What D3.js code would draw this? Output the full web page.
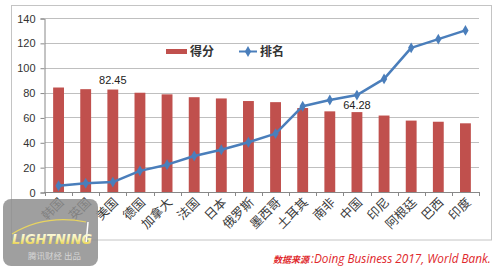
<!DOCTYPE html>
<html>
<head>
<meta charset="utf-8">
<script src="https://cdn.jsdelivr.net/npm/d3@7"></script>
<style>
  html, body { margin: 0; padding: 0; background: #fff; }
  svg { display: block; }
</style>
</head>
<body>
<svg id="chart" width="500" height="271"></svg>
<script>
// Doing Business 2017: ease-of-doing-business score and global rank
const countries = ["韩国", "英国", "美国", "德国", "加拿大", "法国", "日本", "俄罗斯",
                   "墨西哥", "土耳其", "南非", "中国", "印尼", "阿根廷", "巴西", "印度"];
const scores = [84.07, 82.74, 82.45, 79.87, 78.57, 76.27, 75.27, 73.19,
                72.29, 67.57, 64.89, 64.28, 61.52, 57.45, 56.53, 55.27];
const ranks = [5, 7, 8, 17, 22, 29, 34, 40, 47, 69, 74, 78, 91, 116, 123, 130];
const yTicks = [0, 20, 40, 60, 80, 100, 120, 140];
const labelled = ["美国", "中国"];   // bars whose score is printed
const legendNames = ["得分", "排名"];

const barColor = "#C0504D";
const lineColor = "#4A7EBB";
const gridColor = "#bfbfbf";
const cjk = "'Noto Sans CJK SC', 'Noto Sans', sans-serif";
const latin = "'Liberation Sans', Arial, sans-serif";

const svg = d3.select("#chart");

// outer chart frame
svg.append("rect")
  .attr("x", 11.5).attr("y", 5.5).attr("width", 480).attr("height", 234.5)
  .attr("fill", "#fff").attr("stroke", "#c4c4c4");

const x = d3.scaleBand().domain(countries).range([45, 479])
  .paddingInner(0.6).paddingOuter(0.3);
const y = d3.scaleLinear().domain([0, 140]).range([192, 18]);

// horizontal gridlines
svg.append("g").selectAll("line").data(yTicks.filter(d => d > 0)).join("line")
  .attr("x1", 45).attr("x2", 479)
  .attr("y1", d => Math.round(y(d)) + 0.5).attr("y2", d => Math.round(y(d)) + 0.5)
  .attr("stroke", gridColor);

// y axis
const yAxis = svg.append("g").attr("transform", "translate(44.5,0.5)")
  .call(d3.axisLeft(y).tickValues(yTicks).tickSize(4).tickPadding(5));
yAxis.select(".domain").attr("stroke", "#888");
yAxis.selectAll(".tick line").attr("stroke", "#888");
yAxis.selectAll("text").attr("font-family", latin).attr("font-size", 11)
  .attr("fill", "#333");

// bars
svg.append("g").selectAll("rect").data(countries).join("rect")
  .attr("x", d => x(d))
  .attr("width", x.bandwidth())
  .attr("y", (d, i) => y(scores[i]))
  .attr("height", (d, i) => y(0) - y(scores[i]))
  .attr("fill", barColor);

// category axis with ticks at band boundaries
const xg = svg.append("g");
xg.append("line").attr("x1", 44).attr("x2", 479)
  .attr("y1", 192.5).attr("y2", 192.5).attr("stroke", "#888");
const step = x.step();
const bounds = d3.range(countries.length + 1).map(i => x.range()[0] + i * step);
xg.selectAll("line.tk").data(bounds).join("line").attr("class", "tk")
  .attr("x1", d => Math.round(d) + 0.5).attr("x2", d => Math.round(d) + 0.5)
  .attr("y1", 192).attr("y2", 196).attr("stroke", "#888");
xg.selectAll("text").data(countries).join("text")
  .attr("transform", d => `translate(${x(d) + x.bandwidth() / 2 + 3},200) rotate(-45)`)
  .attr("text-anchor", "end").attr("dy", "0.35em")
  .attr("font-family", cjk).attr("font-size", 12.5).attr("fill", "#3a3a3a")
  .text(d => d);

// rank line with diamond markers
const line = d3.line()
  .x((d, i) => x(countries[i]) + x.bandwidth() / 2)
  .y(d => y(d));
svg.append("path").datum(ranks)
  .attr("d", line).attr("fill", "none")
  .attr("stroke", lineColor).attr("stroke-width", 2.5).attr("stroke-linejoin", "round");
const diamond = d3.symbol().type(d3.symbolDiamond).size(34);
svg.append("g").selectAll("path").data(ranks).join("path")
  .attr("transform", (d, i) => `translate(${x(countries[i]) + x.bandwidth() / 2},${y(d)})`)
  .attr("d", diamond).attr("fill", lineColor);

// score labels
svg.append("g").selectAll("text").data(labelled).join("text")
  .attr("x", d => x(d) + x.bandwidth() / 2)
  .attr("y", d => y(scores[countries.indexOf(d)]) - (d === "美国" ? 6 : 3))
  .attr("text-anchor", "middle")
  .attr("font-family", latin).attr("font-size", 11).attr("fill", "#222")
  .text(d => scores[countries.indexOf(d)].toFixed(2));

// legend
const lg = svg.append("g");
lg.append("rect").attr("x", 166).attr("y", 49).attr("width", 21).attr("height", 5)
  .attr("fill", barColor);
lg.append("text").attr("x", 190).attr("y", 52).attr("dy", "0.35em")
  .attr("font-family", cjk).attr("font-size", 12).attr("font-weight", "bold")
  .attr("fill", "#333").text(legendNames[0]);
lg.append("line").attr("x1", 239).attr("x2", 257).attr("y1", 51.5).attr("y2", 51.5)
  .attr("stroke", lineColor).attr("stroke-width", 2);
lg.append("path").attr("transform", "translate(248,51.5)").attr("d", diamond)
  .attr("fill", lineColor);
lg.append("text").attr("x", 260).attr("y", 52).attr("dy", "0.35em")
  .attr("font-family", cjk).attr("font-size", 12).attr("font-weight", "bold")
  .attr("fill", "#333").text(legendNames[1]);

// source note
const src = svg.append("text").attr("x", 273).attr("y", 263)
  .attr("fill", "#e0282c").attr("font-style", "italic");
src.append("tspan").attr("font-family", cjk).attr("font-size", 9).attr("font-weight", "bold")
  .text("数据来源");
src.append("tspan").attr("font-family", "'Open Sans', sans-serif").attr("font-size", 11.8)
  .attr("dx", 2).text(":Doing Business 2017, World Bank.");

// publisher badge
const badge = svg.append("g");
const grad = svg.append("defs").append("linearGradient").attr("id", "lt")
  .attr("x1", 0).attr("y1", 0).attr("x2", 0).attr("y2", 1);
grad.append("stop").attr("offset", "0%").attr("stop-color", "#ffffff");
grad.append("stop").attr("offset", "55%").attr("stop-color", "#f6ee9a");
grad.append("stop").attr("offset", "100%").attr("stop-color", "#e2c02a");
badge.append("rect").attr("x", 3).attr("y", 199).attr("width", 95).attr("height", 67)
  .attr("rx", 8).attr("fill", "#8e8e8e").attr("fill-opacity", 0.85);
badge.append("path").attr("d", "M12,234 Q45,214 86,222")
  .attr("fill", "none").attr("stroke", "#e8d460").attr("stroke-width", 1.2);
badge.append("line").attr("x1", 88).attr("x2", 86).attr("y1", 222).attr("y2", 244)
  .attr("stroke", "#fff").attr("stroke-width", 1.5);
badge.append("text").attr("x", 12).attr("y", 244)
  .attr("font-family", "'DejaVu Sans', sans-serif").attr("font-size", 14)
  .attr("font-weight", "bold").attr("font-style", "italic")
  .attr("textLength", 80).attr("lengthAdjust", "spacingAndGlyphs")
  .attr("fill", "url(#lt)").text("LIGHTNING");
badge.append("text").attr("x", 28).attr("y", 259)
  .attr("font-family", cjk).attr("font-size", 8.5).attr("fill", "#d6d6d6")
  .text("腾讯财经  出品");
</script>
</body>
</html>
